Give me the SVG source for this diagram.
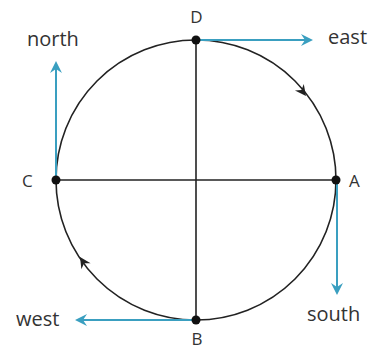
<svg xmlns="http://www.w3.org/2000/svg" width="375" height="351" viewBox="0 0 375 351">
<style>
.lbl{font-family:"Open Sans","Liberation Sans",sans-serif;font-size:20px;fill:#333}
.pt{font-family:"Open Sans","Liberation Sans",sans-serif;font-size:17px;fill:#333}
.blk{stroke:#222;stroke-width:1.6;fill:none}
.teal{stroke:#3a9fc0;stroke-width:2;fill:none}
</style>
<defs>
<path id="ahb" d="M0,0 L-11,-5.5 L-7.5,0 L-11,5.5 Z" fill="#222"/>
<path id="aht" d="M0,0 L-12,-6 L-8,0 L-12,6 Z" fill="#3a9fc0"/>
</defs>
<rect width="375" height="351" fill="#fff"/>
<g id="connectors">
<circle class="blk" cx="196" cy="180" r="140"/>
<line class="blk" x1="196" y1="40" x2="196" y2="320"/>
<line class="blk" x1="56" y1="180" x2="336" y2="180"/>
<use href="#ahb" transform="translate(306,96) rotate(53)"/>
<use href="#ahb" transform="translate(80,257) rotate(237)"/>
<line class="teal" x1="196" y1="40" x2="308" y2="40"/>
<use href="#aht" transform="translate(313,40)"/>
<line class="teal" x1="56" y1="180" x2="56" y2="66"/>
<use href="#aht" transform="translate(56,61) rotate(-90)"/>
<line class="teal" x1="337" y1="180" x2="337" y2="290"/>
<use href="#aht" transform="translate(337,295) rotate(90)"/>
<line class="teal" x1="196" y1="320" x2="80" y2="320"/>
<use href="#aht" transform="translate(75,320) rotate(180)"/>
</g>
<g id="D"><circle cx="196" cy="40" r="4.5" fill="#111"/><text class="pt" x="196.5" y="23" text-anchor="middle">D</text></g>
<g id="A"><circle cx="336" cy="180" r="4.5" fill="#111"/><text class="pt" x="349" y="187">A</text></g>
<g id="B"><circle cx="196" cy="320" r="4.5" fill="#111"/><text class="pt" x="197" y="345" text-anchor="middle">B</text></g>
<g id="C"><circle cx="56" cy="180" r="4.5" fill="#111"/><text class="pt" x="22" y="187">C</text></g>
<g id="east"><text class="lbl" x="328" y="44">east</text></g>
<g id="north"><text class="lbl" x="27" y="46">north</text></g>
<g id="south"><text class="lbl" x="307" y="321">south</text></g>
<g id="west"><text class="lbl" x="16" y="326">west</text></g>
</svg>
